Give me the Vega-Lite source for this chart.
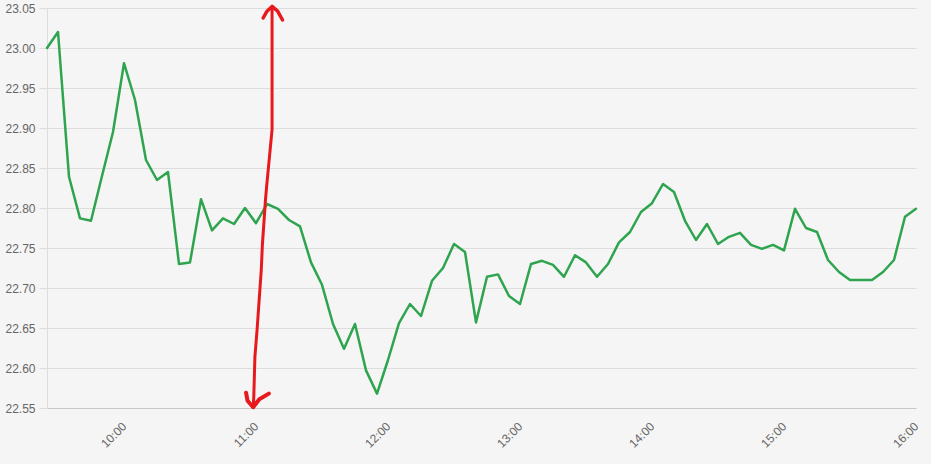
{
  "$schema": "https://vega.github.io/schema/vega-lite/v6.json",
  "width": 869,
  "height": 400,
  "autosize": {"type": "none"},
  "padding": {"left": 47, "top": 8, "right": 15, "bottom": 56},
  "background": "#f5f5f5",
  "config": {"view": {"stroke": null}},
  "data": {"values": [
      {"series": "price", "seq": 1, "time": "2024-01-02T09:25:00", "value": 23.00},
      {"series": "price", "seq": 2, "time": "2024-01-02T09:30:00", "value": 23.02},
      {"series": "price", "seq": 3, "time": "2024-01-02T09:35:00", "value": 22.839},
      {"series": "price", "seq": 4, "time": "2024-01-02T09:40:00", "value": 22.787},
      {"series": "price", "seq": 5, "time": "2024-01-02T09:45:00", "value": 22.784},
      {"series": "price", "seq": 6, "time": "2024-01-02T09:50:00", "value": 22.84},
      {"series": "price", "seq": 7, "time": "2024-01-02T09:55:00", "value": 22.895},
      {"series": "price", "seq": 8, "time": "2024-01-02T10:00:00", "value": 22.981},
      {"series": "price", "seq": 9, "time": "2024-01-02T10:05:00", "value": 22.935},
      {"series": "price", "seq": 10, "time": "2024-01-02T10:10:00", "value": 22.86},
      {"series": "price", "seq": 11, "time": "2024-01-02T10:15:00", "value": 22.835},
      {"series": "price", "seq": 12, "time": "2024-01-02T10:20:00", "value": 22.845},
      {"series": "price", "seq": 13, "time": "2024-01-02T10:25:00", "value": 22.73},
      {"series": "price", "seq": 14, "time": "2024-01-02T10:30:00", "value": 22.732},
      {"series": "price", "seq": 15, "time": "2024-01-02T10:35:00", "value": 22.811},
      {"series": "price", "seq": 16, "time": "2024-01-02T10:40:00", "value": 22.772},
      {"series": "price", "seq": 17, "time": "2024-01-02T10:45:00", "value": 22.787},
      {"series": "price", "seq": 18, "time": "2024-01-02T10:50:00", "value": 22.78},
      {"series": "price", "seq": 19, "time": "2024-01-02T10:55:00", "value": 22.80},
      {"series": "price", "seq": 20, "time": "2024-01-02T11:00:00", "value": 22.781},
      {"series": "price", "seq": 21, "time": "2024-01-02T11:05:00", "value": 22.805},
      {"series": "price", "seq": 22, "time": "2024-01-02T11:10:00", "value": 22.799},
      {"series": "price", "seq": 23, "time": "2024-01-02T11:15:00", "value": 22.785},
      {"series": "price", "seq": 24, "time": "2024-01-02T11:20:00", "value": 22.777},
      {"series": "price", "seq": 25, "time": "2024-01-02T11:25:00", "value": 22.732},
      {"series": "price", "seq": 26, "time": "2024-01-02T11:30:00", "value": 22.704},
      {"series": "price", "seq": 27, "time": "2024-01-02T11:35:00", "value": 22.655},
      {"series": "price", "seq": 28, "time": "2024-01-02T11:40:00", "value": 22.624},
      {"series": "price", "seq": 29, "time": "2024-01-02T11:45:00", "value": 22.655},
      {"series": "price", "seq": 30, "time": "2024-01-02T11:50:00", "value": 22.597},
      {"series": "price", "seq": 31, "time": "2024-01-02T11:55:00", "value": 22.568},
      {"series": "price", "seq": 32, "time": "2024-01-02T12:00:00", "value": 22.61},
      {"series": "price", "seq": 33, "time": "2024-01-02T12:05:00", "value": 22.656},
      {"series": "price", "seq": 34, "time": "2024-01-02T12:10:00", "value": 22.68},
      {"series": "price", "seq": 35, "time": "2024-01-02T12:15:00", "value": 22.665},
      {"series": "price", "seq": 36, "time": "2024-01-02T12:20:00", "value": 22.709},
      {"series": "price", "seq": 37, "time": "2024-01-02T12:25:00", "value": 22.725},
      {"series": "price", "seq": 38, "time": "2024-01-02T12:30:00", "value": 22.755},
      {"series": "price", "seq": 39, "time": "2024-01-02T12:35:00", "value": 22.745},
      {"series": "price", "seq": 40, "time": "2024-01-02T12:40:00", "value": 22.657},
      {"series": "price", "seq": 41, "time": "2024-01-02T12:45:00", "value": 22.714},
      {"series": "price", "seq": 42, "time": "2024-01-02T12:50:00", "value": 22.717},
      {"series": "price", "seq": 43, "time": "2024-01-02T12:55:00", "value": 22.69},
      {"series": "price", "seq": 44, "time": "2024-01-02T13:00:00", "value": 22.68},
      {"series": "price", "seq": 45, "time": "2024-01-02T13:05:00", "value": 22.73},
      {"series": "price", "seq": 46, "time": "2024-01-02T13:10:00", "value": 22.734},
      {"series": "price", "seq": 47, "time": "2024-01-02T13:15:00", "value": 22.729},
      {"series": "price", "seq": 48, "time": "2024-01-02T13:20:00", "value": 22.714},
      {"series": "price", "seq": 49, "time": "2024-01-02T13:25:00", "value": 22.741},
      {"series": "price", "seq": 50, "time": "2024-01-02T13:30:00", "value": 22.732},
      {"series": "price", "seq": 51, "time": "2024-01-02T13:35:00", "value": 22.714},
      {"series": "price", "seq": 52, "time": "2024-01-02T13:40:00", "value": 22.73},
      {"series": "price", "seq": 53, "time": "2024-01-02T13:45:00", "value": 22.757},
      {"series": "price", "seq": 54, "time": "2024-01-02T13:50:00", "value": 22.77},
      {"series": "price", "seq": 55, "time": "2024-01-02T13:55:00", "value": 22.795},
      {"series": "price", "seq": 56, "time": "2024-01-02T14:00:00", "value": 22.806},
      {"series": "price", "seq": 57, "time": "2024-01-02T14:05:00", "value": 22.83},
      {"series": "price", "seq": 58, "time": "2024-01-02T14:10:00", "value": 22.82},
      {"series": "price", "seq": 59, "time": "2024-01-02T14:15:00", "value": 22.784},
      {"series": "price", "seq": 60, "time": "2024-01-02T14:20:00", "value": 22.76},
      {"series": "price", "seq": 61, "time": "2024-01-02T14:25:00", "value": 22.78},
      {"series": "price", "seq": 62, "time": "2024-01-02T14:30:00", "value": 22.755},
      {"series": "price", "seq": 63, "time": "2024-01-02T14:35:00", "value": 22.764},
      {"series": "price", "seq": 64, "time": "2024-01-02T14:40:00", "value": 22.769},
      {"series": "price", "seq": 65, "time": "2024-01-02T14:45:00", "value": 22.754},
      {"series": "price", "seq": 66, "time": "2024-01-02T14:50:00", "value": 22.749},
      {"series": "price", "seq": 67, "time": "2024-01-02T14:55:00", "value": 22.754},
      {"series": "price", "seq": 68, "time": "2024-01-02T15:00:00", "value": 22.747},
      {"series": "price", "seq": 69, "time": "2024-01-02T15:05:00", "value": 22.799},
      {"series": "price", "seq": 70, "time": "2024-01-02T15:10:00", "value": 22.775},
      {"series": "price", "seq": 71, "time": "2024-01-02T15:15:00", "value": 22.77},
      {"series": "price", "seq": 72, "time": "2024-01-02T15:20:00", "value": 22.735},
      {"series": "price", "seq": 73, "time": "2024-01-02T15:25:00", "value": 22.72},
      {"series": "price", "seq": 74, "time": "2024-01-02T15:30:00", "value": 22.71},
      {"series": "price", "seq": 75, "time": "2024-01-02T15:35:00", "value": 22.71},
      {"series": "price", "seq": 76, "time": "2024-01-02T15:40:00", "value": 22.71},
      {"series": "price", "seq": 77, "time": "2024-01-02T15:45:00", "value": 22.72},
      {"series": "price", "seq": 78, "time": "2024-01-02T15:50:00", "value": 22.735},
      {"series": "price", "seq": 79, "time": "2024-01-02T15:55:00", "value": 22.789},
      {"series": "price", "seq": 80, "time": "2024-01-02T16:00:00", "value": 22.799},
      {"series": "arrow_shaft", "seq": 1, "time": "2024-01-02T11:07:18", "value": 23.052},
      {"series": "arrow_shaft", "seq": 2, "time": "2024-01-02T11:07:18", "value": 22.898},
      {"series": "arrow_shaft", "seq": 3, "time": "2024-01-02T11:04:54", "value": 22.829},
      {"series": "arrow_shaft", "seq": 4, "time": "2024-01-02T11:04:18", "value": 22.81},
      {"series": "arrow_shaft", "seq": 5, "time": "2024-01-02T11:02:54", "value": 22.754},
      {"series": "arrow_shaft", "seq": 6, "time": "2024-01-02T11:02:24", "value": 22.723},
      {"series": "arrow_shaft", "seq": 7, "time": "2024-01-02T11:00:30", "value": 22.648},
      {"series": "arrow_shaft", "seq": 8, "time": "2024-01-02T10:59:30", "value": 22.614},
      {"series": "arrow_shaft", "seq": 9, "time": "2024-01-02T10:59:00", "value": 22.564},
      {"series": "arrow_shaft", "seq": 10, "time": "2024-01-02T10:58:42", "value": 22.551},
      {"series": "arrow_top", "seq": 1, "time": "2024-01-02T11:03:15", "value": 23.0375},
      {"series": "arrow_top", "seq": 2, "time": "2024-01-02T11:05:00", "value": 23.046},
      {"series": "arrow_top", "seq": 3, "time": "2024-01-02T11:07:18", "value": 23.052},
      {"series": "arrow_top", "seq": 4, "time": "2024-01-02T11:09:50", "value": 23.046},
      {"series": "arrow_top", "seq": 5, "time": "2024-01-02T11:12:04", "value": 23.035},
      {"series": "arrow_bottom", "seq": 1, "time": "2024-01-02T10:55:30", "value": 22.569},
      {"series": "arrow_bottom", "seq": 2, "time": "2024-01-02T10:56:10", "value": 22.559},
      {"series": "arrow_bottom", "seq": 3, "time": "2024-01-02T10:58:42", "value": 22.551},
      {"series": "arrow_bottom", "seq": 4, "time": "2024-01-02T11:01:30", "value": 22.561},
      {"series": "arrow_bottom", "seq": 5, "time": "2024-01-02T11:05:50", "value": 22.568}
  ]},
  "mark": {"type": "line", "strokeCap": "round", "strokeJoin": "round", "clip": false},
  "encoding": {
    "x": {
      "field": "time",
      "type": "temporal",
      "scale": {
        "domain": [
          {"year": 2024, "month": 1, "date": 2, "hours": 9, "minutes": 25},
          {"year": 2024, "month": 1, "date": 2, "hours": 16, "minutes": 0}
        ]
      },
      "axis": {
        "title": null,
        "values": [
          {"year": 2024, "month": 1, "date": 2, "hours": 10},
          {"year": 2024, "month": 1, "date": 2, "hours": 11},
          {"year": 2024, "month": 1, "date": 2, "hours": 12},
          {"year": 2024, "month": 1, "date": 2, "hours": 13},
          {"year": 2024, "month": 1, "date": 2, "hours": 14},
          {"year": 2024, "month": 1, "date": 2, "hours": 15},
          {"year": 2024, "month": 1, "date": 2, "hours": 16}
        ],
        "format": "%H:%M",
        "labelAngle": -45,
        "labelAlign": "right",
        "labelBaseline": "middle",
        "labelColor": "#666666",
        "labelFontSize": 12,
        "labelPadding": 16,
        "labelOverlap": false,
        "labelBound": false,
        "labelFlush": false,
        "ticks": false,
        "grid": false,
        "domainColor": "#c8c8c8"
      }
    },
    "y": {
      "field": "value",
      "type": "quantitative",
      "scale": {"domain": [22.55, 23.05], "nice": false, "zero": false},
      "axis": {
        "title": null,
        "values": [22.55, 22.6, 22.65, 22.7, 22.75, 22.8, 22.85, 22.9, 22.95, 23.0, 23.05],
        "format": ".2f",
        "labelColor": "#666666",
        "labelFontSize": 12,
        "labelPadding": 4,
        "tickColor": "#dddddd",
        "tickSize": 8,
        "gridColor": "#dddddd",
        "domainColor": "#dddddd"
      }
    },
    "color": {
      "field": "series",
      "type": "nominal",
      "scale": {"domain": ["price", "arrow_shaft", "arrow_top", "arrow_bottom"], "range": ["#2ea44f", "#e8191c", "#e8191c", "#e8191c"]},
      "legend": null
    },
    "strokeWidth": {
      "field": "series",
      "type": "nominal",
      "scale": {"domain": ["price", "arrow_shaft", "arrow_top", "arrow_bottom"], "range": [2.5, 4, 4, 4]},
      "legend": null
    },
    "order": {"field": "seq", "type": "quantitative"}
  }
}
